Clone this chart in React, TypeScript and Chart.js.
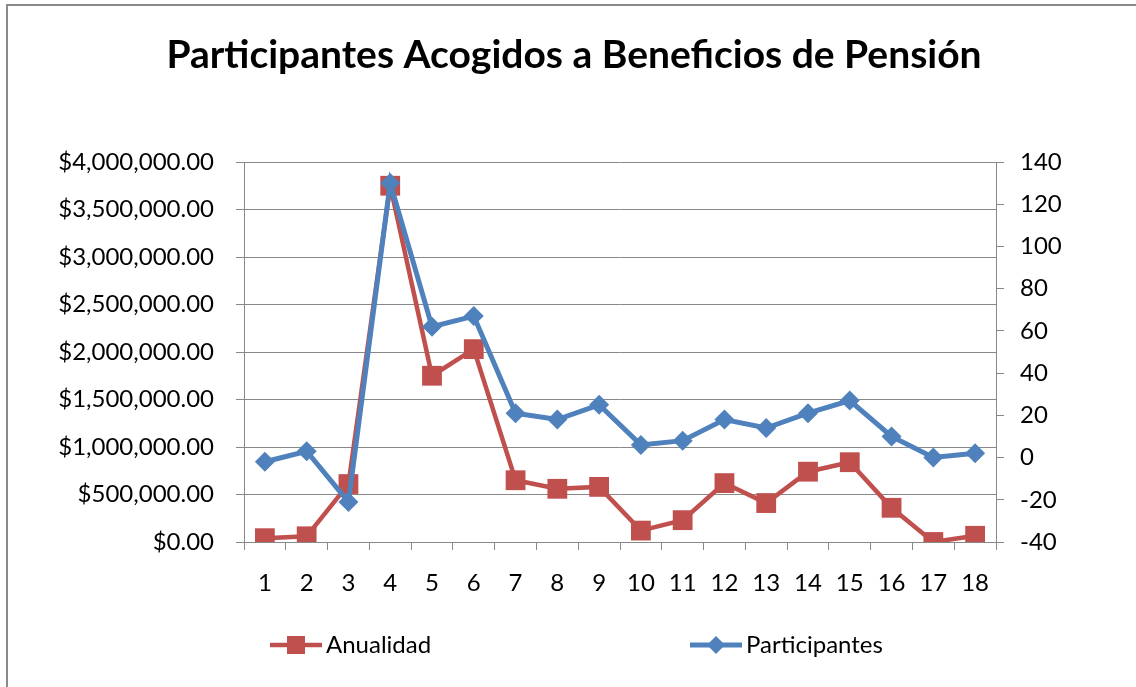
import React, { useEffect, useRef } from "react";
import { Chart, registerables } from "chart.js";

Chart.register(...registerables);

const TITLE = "Participantes Acogidos a Beneficios de Pensión";
const categories = ["1", "2", "3", "4", "5", "6", "7", "8", "9", "10", "11", "12", "13", "14", "15", "16", "17", "18"];
const seriesNames = ["Anualidad", "Participantes"];
const anualidad = [40000, 60000, 610000, 3750000, 1750000, 2030000, 650000, 560000, 580000, 120000, 230000, 620000, 410000, 740000, 840000, 360000, 0, 65000];
const participantes = [-2, 3, -21, 130, 62, 67, 21, 18, 25, 6, 8, 18, 14, 21, 27, 10, 0, 2];
const leftAxisRange = [0, 4000000, 500000];
const rightAxisRange = [-40, 140, 20];

const RED = "#C0504D";
const BLUE = "#4F81BD";
const GRID = "#888888";
const FONT = "Lato";
const TICK_SIZE = 24;

const W = 1136;
const H = 687;

const formatMoney = (v: number) =>
  "$" + v.toLocaleString("en-US", { minimumFractionDigits: 2, maximumFractionDigits: 2 });

const decorPlugin = {
  id: "decor",
  beforeDraw(chart: any) {
    const ctx = chart.ctx as CanvasRenderingContext2D;
    ctx.save();
    ctx.fillStyle = "#ffffff";
    ctx.fillRect(0, 0, chart.width, chart.height);
    ctx.strokeStyle = "#8a8a8a";
    ctx.lineWidth = 2;
    ctx.beginPath();
    ctx.moveTo(7, chart.height);
    ctx.lineTo(7, 5);
    ctx.lineTo(chart.width, 5);
    ctx.stroke();
    ctx.fillStyle = "#000000";
    ctx.font = `bold 39px ${FONT}`;
    ctx.textAlign = "center";
    ctx.textBaseline = "middle";
    ctx.fillText(TITLE, 574, 55);
    ctx.restore();
  },
  afterDraw(chart: any) {
    const ctx = chart.ctx as CanvasRenderingContext2D;
    const starts = [270, 690];
    const y = 645;
    ctx.save();
    chart.data.datasets.forEach((ds: any, i: number) => {
      const x0 = starts[i];
      const len = 52;
      ctx.strokeStyle = ds.borderColor;
      ctx.lineWidth = ds.borderWidth;
      ctx.beginPath();
      ctx.moveTo(x0, y);
      ctx.lineTo(x0 + len, y);
      ctx.stroke();
      ctx.fillStyle = ds.backgroundColor;
      const cx = x0 + len / 2;
      ctx.beginPath();
      if (ds.pointStyle === "rect") {
        ctx.rect(cx - 9, y - 9, 18, 18);
      } else {
        ctx.moveTo(cx, y - 9);
        ctx.lineTo(cx + 9, y);
        ctx.lineTo(cx, y + 9);
        ctx.lineTo(cx - 9, y);
        ctx.closePath();
      }
      ctx.fill();
      ctx.fillStyle = "#000000";
      ctx.font = `${TICK_SIZE}px ${FONT}`;
      ctx.textAlign = "left";
      ctx.textBaseline = "middle";
      ctx.fillText(ds.label, x0 + len + 4, y);
    });
    ctx.restore();
  },
};

export default function App() {
  const canvasRef = useRef<HTMLCanvasElement | null>(null);

  useEffect(() => {
    if (!canvasRef.current) return;
    const tickFont = { family: FONT, size: TICK_SIZE };
    const chart = new Chart(canvasRef.current, {
      type: "line",
      data: {
        labels: categories,
        datasets: [
          {
            label: seriesNames[0],
            data: anualidad,
            yAxisID: "y",
            borderColor: RED,
            backgroundColor: RED,
            borderWidth: 4.5,
            pointStyle: "rect",
            pointRadius: 14,
            pointBorderWidth: 0,
            pointBackgroundColor: RED,
            order: 1,
            tension: 0,
          },
          {
            label: seriesNames[1],
            data: participantes,
            yAxisID: "y1",
            borderColor: BLUE,
            backgroundColor: BLUE,
            borderWidth: 5,
            pointStyle: "rectRot",
            pointRadius: 10,
            pointBorderWidth: 0,
            pointBackgroundColor: BLUE,
            order: 0,
            tension: 0,
          },
        ],
      },
      plugins: [decorPlugin],
      options: {
        responsive: false,
        animation: false,
        devicePixelRatio: 1,
        layout: { padding: { top: 162, left: 0, right: 0, bottom: 0 } },
        plugins: {
          legend: { display: false },
          title: { display: false },
          tooltip: { enabled: false },
        },
        scales: {
          x: {
            type: "category",
            offset: true,
            grid: { offset: true, drawOnChartArea: false, tickLength: 8, color: GRID },
            border: { color: GRID, width: 1 },
            ticks: { font: tickFont, color: "#000", padding: 19, maxRotation: 0, autoSkip: false },
            afterFit: (s: any) => {
              s.height = H - 542;
            },
          },
          y: {
            position: "left",
            min: leftAxisRange[0],
            max: leftAxisRange[1],
            grid: { color: GRID, tickLength: 8 },
            border: { color: GRID, width: 1 },
            ticks: {
              stepSize: leftAxisRange[2],
              font: tickFont,
              color: "#000",
              padding: 22,
              callback: (v: any) => formatMoney(Number(v)),
            },
            afterFit: (s: any) => {
              s.width = 244;
            },
          },
          y1: {
            position: "right",
            min: rightAxisRange[0],
            max: rightAxisRange[1],
            grid: { drawOnChartArea: false, color: GRID, tickLength: 8 },
            border: { color: GRID, width: 1 },
            ticks: { stepSize: rightAxisRange[2], font: tickFont, color: "#000", padding: 16 },
            afterFit: (s: any) => {
              s.width = W - 996;
            },
          },
        },
      },
    });
    return () => chart.destroy();
  }, []);

  return (
    <div style={{ position: "absolute", left: 0, top: 0, width: W, height: H }}>
      <canvas ref={canvasRef} width={W} height={H} style={{ width: W, height: H, display: "block" }} />
    </div>
  );
}
